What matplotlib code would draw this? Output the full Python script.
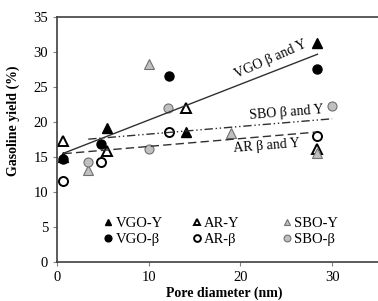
import numpy as np
import matplotlib
matplotlib.use("Agg")
import matplotlib.pyplot as plt

plt.rcParams['font.family'] = ['Liberation Serif', 'DejaVu Serif']
plt.rcParams['font.size'] = 10.5

# data (pore diameter nm, gasoline yield %)
vgo_y_x = [0.7, 5.4, 14.1, 28.3]
vgo_y_y = [15.0, 19.1, 18.6, 31.3]
vgo_b_x = [0.7, 4.8, 12.2, 28.4]
vgo_b_y = [14.7, 16.8, 26.6, 27.6]

ar_y_x = [0.7, 5.4, 14.1, 28.3]
ar_y_y = [17.3, 15.9, 22.0, 16.2]
ar_b_x = [0.7, 4.8, 12.2, 28.3]
ar_b_y = [11.5, 14.3, 18.5, 18.0]

sbo_y_x = [3.4, 10.0, 19.0, 28.3]
sbo_y_y = [13.1, 28.3, 18.4, 15.5]
sbo_b_x = [3.4, 10.0, 12.1, 30.0]
sbo_b_y = [14.3, 16.2, 22.0, 22.3]

gray = '#c0c0c0'

fig = plt.figure(figsize=(3.78, 3.01), dpi=100)
ax = fig.add_axes([0.151, 0.1296, 0.849, 0.814])

ms = 6.5
h1, = ax.plot(vgo_y_x, vgo_y_y, '^', color='black', ms=ms, ls='none', label='VGO-Y')
h2, = ax.plot(vgo_b_x, vgo_b_y, 'o', color='black', ms=ms, ls='none', label='VGO-β')
h3, = ax.plot(ar_y_x, ar_y_y, '^', mfc='white', mec='black', mew=1.4, ms=ms, ls='none', label='AR-Y')
h4, = ax.plot(ar_b_x, ar_b_y, 'o', mfc='white', mec='black', mew=1.4, ms=ms, ls='none', label='AR-β')
h5, = ax.plot(sbo_y_x, sbo_y_y, '^', mfc=gray, mec='#707070', mew=0.8, ms=ms, ls='none', label='SBO-Y')
h6, = ax.plot(sbo_b_x, sbo_b_y, 'o', mfc=gray, mec='#707070', mew=0.8, ms=ms, ls='none', label='SBO-β')


# linear trend lines through both catalysts of each feed
def trend(xs, ys, style):
    x = np.array(xs)
    y = np.array(ys)
    k, b = np.polyfit(x, y, 1)
    xx = np.array([x.min(), x.max()])
    ax.plot(xx, k * xx + b, linestyle=style, color='#303030', lw=1.0)


trend(vgo_y_x + vgo_b_x, vgo_y_y + vgo_b_y, '-')
trend(ar_y_x + ar_b_x, ar_y_y + ar_b_y, (0, (6, 3)))
trend(sbo_y_x + sbo_b_x, sbo_y_y + sbo_b_y, (0, (6, 2, 1, 2, 1, 2)))

ax.text(23.3, 28.9, 'VGO β and Y', rotation=24, ha='center', va='center',
        rotation_mode='anchor', fontsize=10)
ax.text(25.0, 21.3, 'SBO β and Y', rotation=4.5, ha='center', va='center',
        rotation_mode='anchor', fontsize=10)
ax.text(22.9, 16.6, 'AR β and Y', rotation=4.5, ha='center', va='center',
        rotation_mode='anchor', fontsize=10)

ax.set_xlim(0, 35)
ax.set_ylim(0, 35)
ax.set_xticks([0, 10, 20, 30])
ax.set_yticks(range(0, 36, 5))
ax.tick_params(direction='out', length=3, color='#808080', width=0.8)
ax.spines['right'].set_visible(False)
for s in ['left', 'bottom', 'top']:
    ax.spines[s].set_color('#404040')
    ax.spines[s].set_linewidth(1.2)

ax.set_xlabel('Pore diameter (nm)', fontweight='bold', fontsize=10)
ax.set_ylabel('Gasoline yield (%)', fontweight='bold', fontsize=10)
ax.xaxis.set_label_coords(0.52, -0.1)
ax.yaxis.set_label_coords(-0.115, 0.575)

# three legend columns placed separately
lx = [0.119, 0.394, 0.674]
pairs = [(h1, h2), (h3, h4), (h5, h6)]
for i, (x0, hs) in enumerate(zip(lx, pairs)):
    leg = ax.legend(handles=list(hs), loc='lower left', bbox_to_anchor=(x0, 0.04),
                    frameon=False, handlelength=1.0, handletextpad=0.0,
                    markerscale=0.75, borderaxespad=0, labelspacing=0.2,
                    fontsize=10.5)
    if i < len(lx) - 1:
        ax.add_artist(leg)

fig.savefig('out.png', dpi=100)
